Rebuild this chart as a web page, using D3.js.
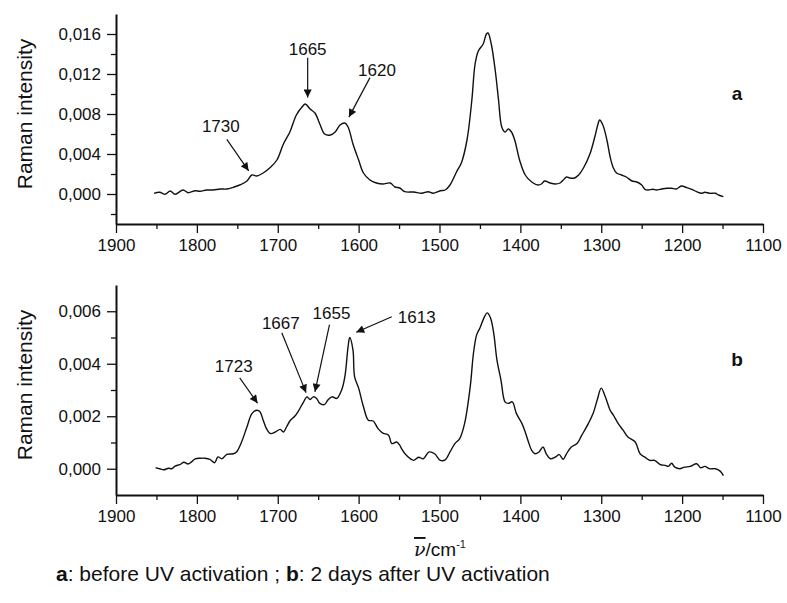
<!DOCTYPE html>
<html>
<head>
<meta charset="utf-8">
<script src="https://cdn.jsdelivr.net/npm/d3@7"></script>
<style>
  body { margin: 0; background: #fff; }
  svg text { font-family: "Liberation Sans", Arial, sans-serif; fill: #111; }
  .axis path, .axis line { stroke: #111; }
  .axis path { stroke-width: 2; }
  .axis line { stroke-width: 1.3; }
</style>
</head>
<body>
<svg id="chart" width="787" height="603"></svg>
<script>
// spectrum a: before UV activation  [wavenumber cm-1, intensity]
var wavenumbersA = [1853,1846,1839,1833,1827,1817,1811,1802,1796,1788,1780,1771,1763,1755,1747,1738,1732,1726,1718,1710,
  1701,1693,1685,1677,1670,1666,1660,1654,1648,1642,1635,1629,1623,1617,1613,1607,1600,1594,1586,1578,1570,1561,1555,1549,
  1543,1532,1522,1514,1508,1499,1493,1487,1479,1473,1466,1460,1456,1452,1446,1442,1440,1436,1431,1427,1423,1419,1415,1411,1407,1401,1394,
  1386,1378,1374,1370,1363,1357,1351,1347,1343,1339,1333,1328,1322,1314,1308,1304,1302,1298,1293,1289,1285,1281,1275,1269,
  1262,1256,1250,1246,1242,1236,1232,1225,1219,1213,1207,1201,1194,1188,1182,1176,1172,1166,1159,1155,1149];
var intensityA = [0.00007,0.00017,-0.00003,0.0003,-0.00003,0.0004,0.00013,0.00033,0.00027,0.0004,0.0004,0.0005,0.0005,0.00067,0.0009,0.0013,0.0019,0.0018,0.0021,0.0026,
  0.0034,0.005,0.0062,0.0079,0.0087,0.009,0.0085,0.0081,0.007,0.006,0.0059,0.0062,0.0069,0.0071,0.0067,0.005,0.0034,0.0021,0.0014,0.0011,0.001,0.0011,0.0007,0.0006,
  0.00023,0.0002,0.00007,0.00023,0.00007,0.00033,0.0004,0.0009,0.0022,0.0031,0.0054,0.0094,0.013,0.0143,0.015,0.016,0.0161,0.015,0.0123,0.0094,0.0067,0.0062,0.0065,0.0062,0.0054,0.0034,0.0019,
  0.0012,0.0009,0.001,0.0013,0.0011,0.001,0.0011,0.0014,0.0017,0.0016,0.0016,0.0019,0.0026,0.004,0.0057,0.007,0.0074,0.0069,0.0054,0.0037,0.0026,0.0021,0.0019,0.0017,
  0.0013,0.0012,0.0009,0.00047,0.0004,0.00047,0.0004,0.0005,0.00057,0.00057,0.0005,0.0008,0.00063,0.00047,0.00023,0.00007,0.00017,0.00007,0.00007,-0.0001,-0.00027];

// spectrum b: 2 days after UV activation
var wavenumbersB = [1851,1846,1841,1835,1831,1827,1821,1816,1811,1807,1802,1796,1790,1784,1778,1774,1769,1763,1755,1751,
  1745,1738,1732,1726,1722,1718,1714,1709,1703,1697,1693,1689,1685,1679,1675,1668,1664,1660,1656,1652,1648,1642,1638,1633,1627,
  1621,1617,1613,1611,1607,1605,1600,1594,1588,1582,1576,1570,1563,1559,1553,1549,
  1547,1541,1532,1526,1520,1513,1506,1499,1493,1487,1481,1475,1469,1462,1458,1454,1450,1445,1441,1437,1433,1429,1424,1419,1415,1410,
  1405,1398,1394,1390,1386,1382,1377,1372,1368,1363,1357,1352,1347,1343,1337,1330,1324,1316,1310,1305,1300,1295,1289,1285,1279,1273,
  1267,1258,1252,1246,1240,1234,1227,1221,1217,1213,1209,1203,1197,1190,1182,1177,1172,1166,1159,1153,1149];
var intensityB = [0.00004,0,-0.00004,0.00002,0,0.0001,0.00016,0.00025,0.00018,0.00025,0.00038,0.0004,0.0004,0.00036,0.00023,0.00045,0.00038,0.00055,0.00057,0.00064,
  0.001,0.0016,0.0021,0.00223,0.00217,0.00185,0.00153,0.00134,0.0014,0.0015,0.0014,0.0016,0.00182,0.002,0.00217,0.00255,0.00274,0.00264,0.00274,0.00268,0.00249,0.00245,0.00262,0.00274,0.00268,
  0.003,0.00351,0.00466,0.005,0.00453,0.00351,0.00307,0.00236,0.00185,0.00182,0.00153,0.00136,0.00128,0.00096,0.00102,0.00089,
  0.00077,0.00051,0.00032,0.00044,0.00038,0.00064,0.00057,0.00032,0.00034,0.00064,0.00096,0.00115,0.00172,0.00313,0.0044,0.00511,0.00536,0.00575,0.00594,0.00575,0.00517,0.00415,0.00338,0.00255,0.00249,0.00255,
  0.00211,0.00172,0.0014,0.00102,0.0007,0.00057,0.00064,0.00083,0.00057,0.00038,0.00044,0.00054,0.00036,0.00057,0.00083,0.00096,0.00128,0.00172,0.00211,0.00262,0.00307,0.00274,0.00223,0.00204,0.00172,0.00147,
  0.00121,0.00102,0.00057,0.00044,0.00032,0.00032,0.00016,0.00013,0.00009,0.00021,0.00006,0,0.00006,0.00009,0.00019,0.00004,0.00009,0,0,-0.00009,-0.00026];

var xTicks = [1900,1800,1700,1600,1500,1400,1300,1200,1100];
var xMinorTicks = [1850,1750,1650,1550,1450,1350,1250,1150];
var yTicksA = [0,0.004,0.008,0.012,0.016];
var yMinorTicksA = [-0.002,0.002,0.006,0.010,0.014];
var yTicksB = [0,0.002,0.004,0.006];
var yMinorTicksB = [0.001,0.003,0.005];

// peak annotations: label, arrow tail [cm-1, intensity], arrow tip [cm-1, intensity]
var peaksA = [
  {label:"1730", tail:[1763,0.00547], tip:[1736,0.00232], dx:-6, dy:-7, anchor:"middle"},
  {label:"1665", tail:[1663,0.01363], tip:[1663,0.00965], dx:0, dy:-3, anchor:"middle"},
  {label:"1620", tail:[1586,0.01164], tip:[1612,0.00769], dx:7, dy:-2, anchor:"middle"}
];
var peaksB = [
  {label:"1723", tail:[1747,0.00346], tip:[1725,0.0025], dx:-6, dy:-6, anchor:"middle"},
  {label:"1667", tail:[1695,0.00518], tip:[1665,0.0029], dx:-1, dy:-4, anchor:"middle"},
  {label:"1655", tail:[1636,0.00549], tip:[1654,0.00293], dx:2, dy:-6, anchor:"middle"},
  {label:"1613", tail:[1559,0.00579], tip:[1603,0.0052], dx:6, dy:6, anchor:"start"}
];

var svg = d3.select('#chart');
var margin = {left:116, right:24};
var width = 787 - margin.left - margin.right;

var fmt = d3.formatLocale({decimal:",", thousands:".", grouping:[3], currency:["",""]}).format(".3f");

svg.append('defs').append('marker')
  .attr('id','arrow')
  .attr('viewBox','0 0 10 10')
  .attr('refX',10).attr('refY',5)
  .attr('markerWidth',9).attr('markerHeight',8)
  .attr('markerUnits','userSpaceOnUse')
  .attr('orient','auto')
  .append('path')
  .attr('d','M0,0L10,5L0,10Z')
  .attr('fill','#111');

function panel(top, yDomain, yTicks, yMinor, xs, ys, peaks, letter){
  var height = 210;
  var g = svg.append('g').attr('transform','translate('+margin.left+','+top+')');
  var x = d3.scaleLinear().domain([1900,1100]).range([0,width]);
  var y = d3.scaleLinear().domain(yDomain).range([height,0]);

  // minor ticks
  g.append('g').attr('class','axis').attr('transform','translate(0,'+height+')')
    .call(d3.axisBottom(x).tickValues(xMinorTicks).tickSize(5).tickFormat(''))
    .select('.domain').remove();
  g.append('g').attr('class','axis')
    .call(d3.axisLeft(y).tickValues(yMinor).tickSize(5).tickFormat(''))
    .select('.domain').remove();

  var xa = g.append('g').attr('class','axis').attr('transform','translate(0,'+height+')')
    .call(d3.axisBottom(x).tickValues(xTicks).tickSize(9).tickSizeOuter(0).tickPadding(6).tickFormat(d3.format('d')));
  xa.selectAll('text').attr('font-size',17).attr('fill','#111');
  var ya = g.append('g').attr('class','axis')
    .call(d3.axisLeft(y).tickValues(yTicks).tickSize(9).tickSizeOuter(0).tickPadding(6).tickFormat(fmt));
  ya.selectAll('text').attr('font-size',17).attr('fill','#111');
  g.selectAll('.axis text').attr('font-family','"Liberation Sans", Arial, sans-serif');

  g.append('text')
    .attr('transform','translate('+(25-margin.left)+','+(height/2 - 5)+') rotate(-90)')
    .attr('text-anchor','middle')
    .attr('dy','0.35em')
    .attr('font-size',21)
    .text('Raman intensity');

  var line = d3.line()
    .x(function(d){ return x(d[0]); })
    .y(function(d){ return y(d[1]); })
    .curve(d3.curveCatmullRom.alpha(0.5));
  g.append('path')
    .datum(d3.zip(xs, ys))
    .attr('fill','none')
    .attr('stroke','#111')
    .attr('stroke-width',1.4)
    .attr('stroke-linejoin','round')
    .attr('d', line);

  var ann = g.selectAll('.peak').data(peaks).enter().append('g').attr('class','peak');
  ann.append('line')
    .attr('x1',function(d){ return x(d.tail[0]); })
    .attr('y1',function(d){ return y(d.tail[1]); })
    .attr('x2',function(d){ return x(d.tip[0]); })
    .attr('y2',function(d){ return y(d.tip[1]); })
    .attr('stroke','#111').attr('stroke-width',1.2)
    .attr('marker-end','url(#arrow)');
  ann.append('text')
    .attr('x',function(d){ return x(d.tail[0]) + d.dx; })
    .attr('y',function(d){ return y(d.tail[1]) + d.dy; })
    .attr('text-anchor',function(d){ return d.anchor; })
    .attr('font-size',17)
    .text(function(d){ return d.label; });

  g.append('text')
    .attr('x', x(1132))
    .attr('y', letter.y)
    .attr('text-anchor','middle')
    .attr('font-size',19)
    .attr('font-weight','bold')
    .text(letter.text);
}

panel(14, [-0.003,0.018], yTicksA, yMinorTicksA, wavenumbersA, intensityA, peaksA, {text:'a', y:86});
panel(285, [-0.001,0.007], yTicksB, yMinorTicksB, wavenumbersB, intensityB, peaksB, {text:'b', y:81});

// x axis title
var xt = svg.append('text').attr('x',440).attr('y',556).attr('text-anchor','middle').attr('font-size',19);
xt.append('tspan').attr('font-family','"DejaVu Serif", "Liberation Serif", serif').attr('font-style','italic')
  .style('text-decoration','overline').text('\u03bd');
xt.append('tspan').text('/cm');
xt.append('tspan').attr('font-size',11).attr('dy',-8).text('-1');

// caption
var cap = svg.append('text').attr('x',56).attr('y',581).attr('font-size',21);
cap.append('tspan').attr('font-weight','bold').text('a');
cap.append('tspan').text(': before UV activation ; ');
cap.append('tspan').attr('font-weight','bold').text('b');
cap.append('tspan').text(': 2 days after UV activation');
</script>
</body>
</html>
